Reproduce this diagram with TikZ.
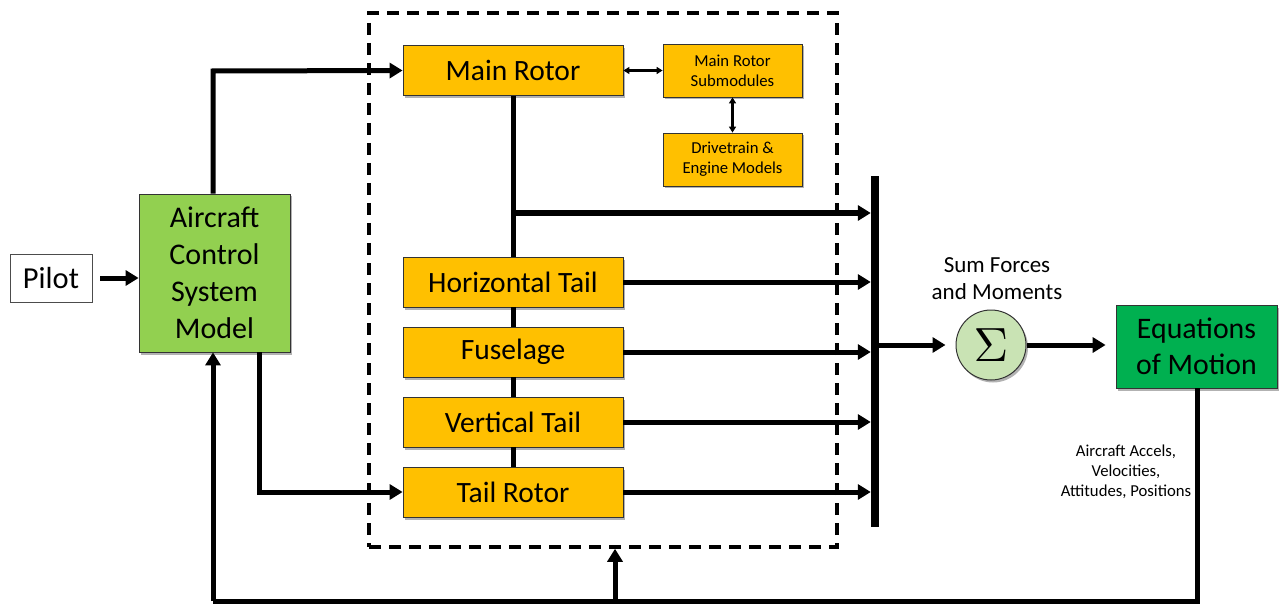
\documentclass[tikz,border=0pt]{standalone}
\usepackage{fontspec}
\setmainfont{Carlito}
\usetikzlibrary{arrows.meta,shadows}
\definecolor{orangebox}{HTML}{FFC000}
\definecolor{lgreen}{HTML}{92D050}
\definecolor{dgreen}{HTML}{00B050}
\definecolor{sumfill}{HTML}{C9E3B4}
\tikzset{
  shd/.style={drop shadow={shadow xshift=2pt,shadow yshift=-2.5pt,opacity=0.3,fill=black}},
  obox/.style={draw=black!80,line width=0.8pt,fill=orangebox,shd,inner sep=0pt,align=center,minimum width=220pt,minimum height=50pt,font=\fontsize{29.5}{32}\selectfont},
  sbox/.style={draw=black!80,line width=0.8pt,fill=orangebox,shd,inner sep=0pt,align=center,minimum width=139pt,minimum height=53pt,font=\fontsize{16.7}{20}\selectfont},
  gbox/.style={draw=black!80,line width=0.8pt,shd,inner sep=0pt,align=center},
  arr/.style={line width=5pt,-{Triangle[length=13pt,width=15pt]}},
  ln/.style={line width=5pt},
  darr/.style={line width=2.2pt,{Triangle[length=6pt,width=7pt]}-{Triangle[length=6pt,width=7pt]}},
}
\begin{document}
\begin{tikzpicture}[x=1pt,y=-1pt]
\useasboundingbox (0,0) rectangle (1279,604);
% dashed container
\node[draw,dashed,dash pattern=on 12pt off 8pt,line width=3.5pt,minimum width=468pt,minimum height=534pt,inner sep=0pt] (dbox) at (603,280) {};
% nodes
\node[draw=black!70,line width=0.6pt,minimum width=82pt,minimum height=48pt,inner sep=0pt,font=\fontsize{30.5}{34}\selectfont] (pilot) at (51,278) {Pilot};
\node[gbox,fill=lgreen,minimum width=151pt,minimum height=158pt,font=\fontsize{30}{37}\selectfont] (acs) at (214.5,273) {Aircraft\\Control\\System\\Model};
\node[obox] (mr) at (513,70.5) {Main Rotor};
\node[sbox] (sub) at (732.5,70.5) {Main Rotor\\Submodules};
\node[sbox] (drv) at (732.5,159.5) {Drivetrain \&\\Engine Models};
\node[obox] (ht) at (513,282) {Horizontal Tail};
\node[obox] (fus) at (513,352) {Fuselage};
\node[obox] (vt) at (513,422) {Vertical Tail};
\node[obox] (tr) at (513,492) {Tail Rotor};
\node[fill=black,minimum width=8pt,minimum height=351pt,inner sep=0pt] (bar) at (875,351.5) {};
\node[circle,draw=black!80,line width=1pt,fill=sumfill,minimum size=70pt,inner sep=0pt,shd] (sum) at (991,345) {\scalebox{4.8}{$\Sigma$}};
\node[align=center,font=\fontsize{23}{27}\selectfont] (sumlbl) at (997,279) {Sum Forces\\and Moments};
\node[gbox,fill=dgreen,minimum width=161pt,minimum height=83pt,font=\fontsize{29.8}{36}\selectfont] (eom) at (1196.5,346.5) {Equations\\of Motion};
\node[align=center,font=\fontsize{16.7}{20}\selectfont] (acc) at (1126,472) {Aircraft Accels,\\Velocities,\\Attitudes, Positions};
% trunk
\coordinate (j) at (513,213);
\draw[ln] (mr.south) -- (ht.north);
\draw[ln] (ht.south) -- (fus.north);
\draw[ln] (fus.south) -- (vt.north);
\draw[ln] (vt.south) -- (tr.north);
% to bar
\draw[arr] (j) -- (j -| bar.west);
\draw[arr] (ht.east) -- (ht.east -| bar.west);
\draw[arr] (fus.east) -- (fus.east -| bar.west);
\draw[arr] (vt.east) -- (vt.east -| bar.west);
\draw[arr] (tr.east) -- (tr.east -| bar.west);
% double arrows
\draw[darr] (mr.east |- sub.west) -- (sub.west);
\draw[darr] (sub.south) -- (drv.north);
% pilot and control
\draw[arr] (pilot.east) ++(8,0) coordinate (pe) -- (pe -| acs.west);
\coordinate (cu) at (213,71);
\draw[arr] (acs.north -| cu) -- (cu) -- (mr.west);
\coordinate (cd) at (259,492);
\draw[arr] (acs.south -| cd) -- (cd) -- (tr.west);
% sum
\draw[arr,shorten >=10pt] (bar.east |- sum.west) -- (sum.west);
\draw[arr,shorten >=10pt] (sum.east) -- (sum.east -| eom.west);
% feedback
\coordinate (fb) at (1197,601);
\coordinate (fbl) at (213,601);
\coordinate (fbx) at (615,601);
\draw[ln] (eom.south -| fb) -- (fb) -- (fbl);
\draw[arr] (fbl) -- (fbl |- acs.south);
\draw[arr] (fbx) -- (fbx |- dbox.south);
\end{tikzpicture}
\end{document}
